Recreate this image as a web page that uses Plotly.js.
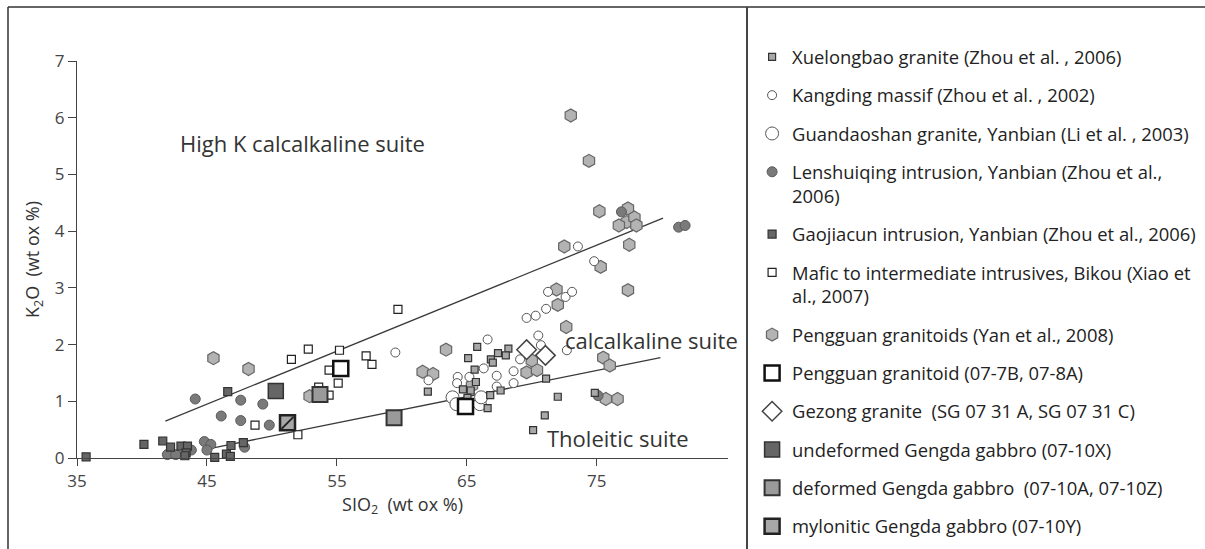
<!DOCTYPE html>
<html>
<head>
<meta charset="utf-8">
<script src="https://cdn.plot.ly/plotly-3.0.1.min.js"></script>
<style>html,body{margin:0;padding:0;background:#fff;}#chart{width:1205px;height:549px;}</style>
</head>
<body>
<div id="chart"></div>
<script>
// ---- data (SiO2 wt%, K2O wt%) ----
const xuelongbaoX = [65.8,65.1,67.4,68.2,68.0,66.85,67.0,65.6,65.7,64.7,65.3,65.05,66.8,67.6,66.6,71.1,72.0,71.0,70.1,62.0,74.85];
const xuelongbaoY = [1.96,1.76,1.85,1.93,1.81,1.74,1.68,1.56,1.34,1.21,1.19,1.06,1.11,1.19,0.88,1.40,1.08,0.75,0.49,1.17,1.15];

const kangdingX = [59.5,62.05,64.3,64.25,65.2,66.6,66.3,67.3,67.3,68.6,68.6,69.1,70.5,70.7,72.7,69.6,70.3,71.1,71.25,72.6,73.1,73.55,74.8];
const kangdingY = [1.86,1.37,1.43,1.32,1.43,2.09,1.58,1.45,1.26,1.53,1.32,1.74,2.16,1.99,1.90,2.47,2.51,2.63,2.93,2.84,2.93,3.73,3.47];

const guandaoshanX = [63.9,64.2,66.0,66.1];
const guandaoshanY = [1.07,0.95,0.95,1.07];

const lenshuiqingX = [44.1,47.6,49.3,46.1,47.6,49.8,44.8,45.3,45.0,43.8,47.9,41.95,42.6,76.9,81.3,81.8,75.1];
const lenshuiqingY = [1.04,1.02,0.95,0.74,0.66,0.58,0.29,0.24,0.14,0.14,0.19,0.06,0.06,4.34,4.07,4.10,1.10];

const gaojiacunX = [35.7,40.15,41.6,42.2,43.0,43.5,43.4,43.3,45.6,46.5,46.8,46.85,47.8,46.6];
const gaojiacunY = [0.02,0.24,0.30,0.19,0.21,0.21,0.09,0.04,0.01,0.07,0.03,0.22,0.27,1.17];

const bikouX = [48.7,59.7,52.8,51.5,55.2,57.25,57.7,54.4,55.1,54.4,52.0,53.6];
const bikouY = [0.58,2.62,1.92,1.74,1.90,1.80,1.65,1.55,1.32,1.11,0.41,1.25];

const pengguanX = [45.5,48.2,52.9,61.6,62.4,63.4,65.4,69.6,70.4,70.0,71.9,72.0,72.65,75.5,76.0,75.7,76.6,77.4,75.3,72.5,77.5,73.0,74.4,75.2,77.4,77.3,77.9,76.7,78.05];
const pengguanY = [1.76,1.57,1.09,1.52,1.48,1.91,1.28,1.51,1.55,1.72,2.97,2.70,2.31,1.77,1.63,1.04,1.04,2.96,3.37,3.73,3.76,6.04,5.24,4.35,4.40,4.16,4.24,4.10,4.10];

const pgSampleX = [55.3,64.9];
const pgSampleY = [1.58,0.91];

const gezongX = [69.6,71.05];
const gezongY = [1.91,1.81];

const undeformedX = [50.3];
const undeformedY = [1.18];

const deformedX = [53.7,59.4];
const deformedY = [1.12,0.71];

const myloniticX = [51.2];
const myloniticY = [0.62];

// suite boundary lines
const upperLineX = [41.8,80.1];
const upperLineY = [0.65,4.23];
const lowerLineX = [45.3,79.9];
const lowerLineY = [0.17,1.77];

const xTicks = [35,45,55,65,75];
const yTicks = [0,1,2,3,4,5,6,7];

const legendNames = [
  "Xuelongbao granite (Zhou et al. , 2006)",
  "Kangding massif (Zhou et al. , 2002)",
  "Guandaoshan granite, Yanbian (Li et al. , 2003)",
  "Lenshuiqing intrusion, Yanbian (Zhou et al.,<br>2006)",
  "Gaojiacun intrusion, Yanbian (Zhou et al., 2006)",
  "Mafic to intermediate intrusives, Bikou (Xiao et<br>al., 2007)",
  "Pengguan granitoids (Yan et al., 2008)",
  "Pengguan granitoid (07-7B, 07-8A)",
  "Gezong granite  (SG 07 31 A, SG 07 31 C)",
  "undeformed Gengda gabbro (07-10X)",
  "deformed Gengda gabbro  (07-10A, 07-10Z)",
  "mylonitic Gengda gabbro (07-10Y)"
];

const suiteLabels = ["High K calcalkaline suite","calcalkaline suite","Tholeitic suite"];

// ---- traces ----
function pts(x, y, name, rank, marker, group) {
  return {type:'scatter', mode:'markers', x:x, y:y, name:name, legendrank:rank,
          legendgroup:group, marker:marker, cliponaxis:false, hoverinfo:'x+y+name'};
}
const traces = [];
traces.push({type:'scatter', mode:'lines', x:upperLineX, y:upperLineY, showlegend:false,
             line:{color:'#3a3a3a', width:1.3}, hoverinfo:'skip'});
traces.push({type:'scatter', mode:'lines', x:lowerLineX, y:lowerLineY, showlegend:false,
             line:{color:'#3a3a3a', width:1.3}, hoverinfo:'skip'});
traces.push(pts(pengguanX, pengguanY, legendNames[6], 7,
  {symbol:'hexagon', size:13, color:'#b3b3b3', line:{color:'#666', width:1.2}}, 'g7'));
traces.push(pts(kangdingX, kangdingY, legendNames[1], 2,
  {symbol:'circle', size:9, color:'#ffffff', line:{color:'#555', width:1}}, 'g2'));
traces.push(pts(guandaoshanX, guandaoshanY, legendNames[2], 3,
  {symbol:'circle', size:13, color:'#ffffff', line:{color:'#555', width:1}}, 'g3'));
traces.push(pts(lenshuiqingX, lenshuiqingY, legendNames[3], 4,
  {symbol:'circle', size:10, color:'#7a7a7a', line:{color:'#5a5a5a', width:1}}, 'g4'));
traces.push(pts(xuelongbaoX, xuelongbaoY, legendNames[0], 1,
  {symbol:'square', size:7, color:'#a8a8a8', line:{color:'#333', width:1.2}}, 'g1'));
traces.push(pts(gaojiacunX, gaojiacunY, legendNames[4], 5,
  {symbol:'square', size:8, color:'#666666', line:{color:'#333', width:1.2}}, 'g5'));
traces.push(pts(bikouX, bikouY, legendNames[5], 6,
  {symbol:'square', size:8, color:'#ffffff', line:{color:'#222', width:1.2}}, 'g6'));
traces.push(pts(gezongX, gezongY, legendNames[8], 9,
  {symbol:'diamond', size:15, color:'#ffffff', line:{color:'#444', width:1.5}}, 'g9'));
traces.push(pts(pgSampleX, pgSampleY, legendNames[7], 8,
  {symbol:'square', size:15, color:'#ffffff', line:{color:'#111', width:2.5}}, 'g8'));
traces.push(pts(undeformedX, undeformedY, legendNames[9], 10,
  {symbol:'square', size:15, color:'#666666', line:{color:'#333', width:1.5}}, 'g10'));
traces.push(pts(deformedX, deformedY, legendNames[10], 11,
  {symbol:'square', size:15, color:'#9a9a9a', line:{color:'#333', width:2}}, 'g11'));
traces.push(pts(myloniticX, myloniticY, legendNames[11], 12,
  {symbol:'square', size:15, color:'#a8a8a8', line:{color:'#222', width:2.5}}, 'g12'));
traces.push({type:'scatter', mode:'markers', x:myloniticX, y:myloniticY, showlegend:false,
  legendgroup:'g12', cliponaxis:false, hoverinfo:'skip',
  marker:{symbol:'line-ne', size:12, color:'#222', line:{color:'#222', width:2}}});

// ---- layout ----
const FONT = '"Open Sans", "Noto Sans", sans-serif';
const layout = {
  width:1205, height:549,
  margin:{l:77, r:477, t:61, b:91.3, pad:0, autoexpand:false},
  paper_bgcolor:'#fff', plot_bgcolor:'#fff',
  font:{family:FONT, color:'#333', size:16},
  showlegend:true,
  legend:{x:1.037, y:1.057, xanchor:'left', yanchor:'top', valign:'top',
          traceorder:'grouped', tracegroupgap:11.4, maxheight:1000,
          font:{family:FONT, size:18.4, color:'#222'}, bgcolor:'rgba(0,0,0,0)'},
  xaxis:{range:[35,85.1], tickvals:xTicks, ticktext:xTicks.map(String), automargin:false,
         showgrid:false, zeroline:false, showline:true, linecolor:'#444', linewidth:1.3,
         ticks:'outside', ticklen:7, tickcolor:'#444', tickwidth:1.3,
         tickfont:{family:FONT, size:17, color:'#444'},
         title:{text:'SIO<sub>2</sub>  (wt ox %)', standoff:6,
                font:{family:FONT, size:18, color:'#333'}}},
  yaxis:{range:[0,7], tickvals:yTicks, showgrid:false, zeroline:false, automargin:false,
         showline:true, linecolor:'#444', linewidth:1.3,
         ticks:'outside', ticklen:8, tickcolor:'#444', tickwidth:1.3,
         tickfont:{family:FONT, size:17, color:'#444'},
         title:{text:'K<sub>2</sub>O  (wt ox %)', standoff:10,
                font:{family:FONT, size:18, color:'#333'}}},
  annotations:[
    {x:42.77, y:5.55, xref:'x', yref:'y', text:suiteLabels[0], showarrow:false, xanchor:'left', yanchor:'middle',
     font:{family:FONT, size:22, color:'#333'}},
    {x:72.4, y:2.08, xref:'x', yref:'y', text:suiteLabels[1], showarrow:false, xanchor:'left', yanchor:'middle',
     font:{family:FONT, size:22, color:'#333'}},
    {x:71.0, y:0.35, xref:'x', yref:'y', text:suiteLabels[2], showarrow:false, xanchor:'left', yanchor:'middle',
     font:{family:FONT, size:22, color:'#333'}}
  ],
  shapes:[
    {type:'line', xref:'paper', yref:'paper', x0:-0.106, x1:1.75, y0:1.136, y1:1.136, line:{color:'#333', width:1.5}},
    {type:'line', xref:'paper', yref:'paper', x0:-0.106, x1:-0.106, y0:1.136, y1:-0.26, line:{color:'#333', width:1.5}},
    {type:'line', xref:'paper', yref:'paper', x0:1.0292, x1:1.0292, y0:1.136, y1:-0.26, line:{color:'#444', width:2}}
  ]
};
Plotly.newPlot('chart', traces, layout, {displayModeBar:false, responsive:false});
</script>
</body>
</html>
